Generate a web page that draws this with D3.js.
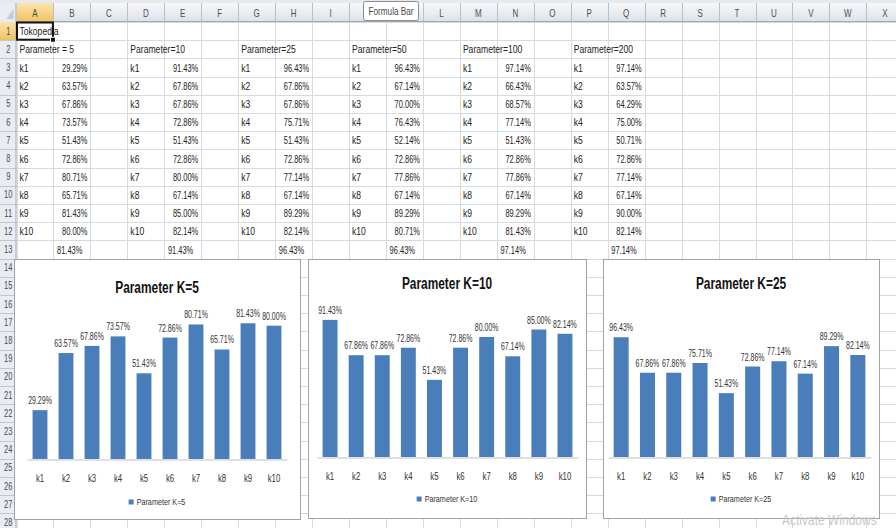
<!DOCTYPE html>
<html>
<head>
<meta charset="utf-8">
<script src="https://cdn.jsdelivr.net/npm/d3@7"></script>
<style>
  html, body { margin: 0; padding: 0; background: #fff; }
  svg { display: block; font-family: "Liberation Sans", Arial, sans-serif; }
</style>
</head>
<body>
<svg id="chart" width="896" height="528"></svg>
<script>
// ---------------- data ----------------
const columnLetters = ["A","B","C","D","E","F","G","H","I","J","K","L","M","N","O","P","Q","R","S","T","U","V","W","X"];
const categories = ["k1","k2","k3","k4","k5","k6","k7","k8","k9","k10"];
const sheetTitle = "Tokopedia";
const paramHeaders = ["Parameter = 5","Parameter=10","Parameter=25","Parameter=50","Parameter=100","Parameter=200"];
const param5   = [29.29, 63.57, 67.86, 73.57, 51.43, 72.86, 80.71, 65.71, 81.43, 80.00];
const param10  = [91.43, 67.86, 67.86, 72.86, 51.43, 72.86, 80.00, 67.14, 85.00, 82.14];
const param25  = [96.43, 67.86, 67.86, 75.71, 51.43, 72.86, 77.14, 67.14, 89.29, 82.14];
const param50  = [96.43, 67.14, 70.00, 76.43, 52.14, 72.86, 77.86, 67.14, 89.29, 80.71];
const param100 = [97.14, 66.43, 68.57, 77.14, 51.43, 72.86, 77.86, 67.14, 89.29, 81.43];
const param200 = [97.14, 63.57, 64.29, 75.00, 50.71, 72.86, 77.14, 67.14, 90.00, 82.14];
const summaryRow = [81.43, 91.43, 96.43, 96.43, 97.14, 97.14];
const chartTitles = ["Parameter K=5", "Parameter K=10", "Parameter K=25"];
const chartSeries = [param5, param10, param25];
const axisMaxima = [90, 100, 120];

const paramBlocks = [param5, param10, param25, param50, param100, param200];

// ---------------- layout ----------------
const svg = d3.select("#chart");
const W = 896, H = 528;
const rowHdrW = 16.5, colW = 36.95;
const hdrTop = 3, hdrBot = 22, rowH = 18.2;
const colX = i => rowHdrW + i * colW;
const rowTop = n => hdrBot + (n - 1) * rowH;
const rowMid = n => rowTop(n) + rowH / 2;
const barColor = "#4a7ebb";
const tip = { x: 363.5, y: 1.5, w: 55, h: 19 };

function txt(parent, x, y, s, o = {}) {
  return parent.append("text")
    .attr("transform", `translate(${x},${y}) scale(${o.sx || 0.8},1)`)
    .attr("text-anchor", o.anchor || "start")
    .style("font-size", (o.size || 11) + "px")
    .style("font-weight", o.weight || "normal")
    .style("fill", o.fill || "#222")
    .text(s);
}

const defs = svg.append("defs");
const g1 = defs.append("linearGradient").attr("id", "hdr").attr("x1", 0).attr("y1", 0).attr("x2", 0).attr("y2", 1);
g1.append("stop").attr("offset", 0).attr("stop-color", "#f7f8fa");
g1.append("stop").attr("offset", 1).attr("stop-color", "#dde2e8");
const g2 = defs.append("linearGradient").attr("id", "hdrSel").attr("x1", 0).attr("y1", 0).attr("x2", 0).attr("y2", 1);
g2.append("stop").attr("offset", 0).attr("stop-color", "#fbe3ae");
g2.append("stop").attr("offset", 1).attr("stop-color", "#f2c25e");

svg.append("rect").attr("width", W).attr("height", H).attr("fill", "#fff");
svg.append("rect").attr("width", W).attr("height", hdrTop).attr("fill", "#e6eaef");

// gridlines
const grid = svg.append("g").attr("stroke", "#d6dbe2").attr("stroke-width", 1);
for (let i = 0; i <= columnLetters.length; i++) {
  const x = Math.round(colX(i)) + 0.5;
  grid.append("line").attr("x1", x).attr("x2", x).attr("y1", hdrBot).attr("y2", H);
}
for (let n = 1; n <= 29; n++) {
  const y = Math.round(rowTop(n)) + 0.5;
  grid.append("line").attr("x1", rowHdrW).attr("x2", W).attr("y1", y).attr("y2", y);
}

// column header
svg.append("rect").attr("x", 0).attr("y", hdrTop).attr("width", W).attr("height", hdrBot - hdrTop).attr("fill", "url(#hdr)");
svg.append("rect").attr("x", colX(0)).attr("y", hdrTop).attr("width", colW).attr("height", hdrBot - hdrTop).attr("fill", "url(#hdrSel)");
columnLetters.forEach((c, i) => {
  const x = Math.round(colX(i + 1)) + 0.5;
  svg.append("line").attr("x1", x).attr("x2", x).attr("y1", hdrTop).attr("y2", hdrBot).attr("stroke", "#b9c1cc");
  const cxl = colX(i) + colW / 2;
  // letters hidden behind the "Formula Bar" tooltip are not drawn
  if (cxl > tip.x - 4 && cxl < tip.x + tip.w + 4) return;
  txt(svg, cxl, hdrBot - 5, c, { anchor: "middle", size: 10, fill: "#4a4f57", sx: 0.8 });
});
svg.append("line").attr("x1", 0).attr("x2", W).attr("y1", hdrBot - 0.5).attr("y2", hdrBot - 0.5).attr("stroke", "#9fa9b6");

// row header
svg.append("rect").attr("x", 0).attr("y", hdrTop).attr("width", rowHdrW).attr("height", H - hdrTop).attr("fill", "#e9edf2");
svg.append("rect").attr("x", 0).attr("y", rowTop(1)).attr("width", rowHdrW).attr("height", rowH).attr("fill", "url(#hdrSel)");
svg.append("path").attr("d", `M${rowHdrW - 3},${hdrBot - 3}L${rowHdrW - 3},${hdrTop + 6}L${rowHdrW - 10},${hdrBot - 3}Z`).attr("fill", "#c5cbd3");
for (let n = 1; n <= 28; n++) {
  const y = Math.round(rowTop(n + 1)) + 0.5;
  svg.append("line").attr("x1", 0).attr("x2", rowHdrW).attr("y1", y).attr("y2", y).attr("stroke", "#c0c7d1");
  txt(svg, rowHdrW / 2, rowMid(n) + 3.5, String(n), { anchor: "middle", size: 10, fill: "#3f4c60", sx: 0.75 });
}
svg.append("line").attr("x1", rowHdrW - 0.5).attr("x2", rowHdrW - 0.5).attr("y1", hdrTop).attr("y2", H).attr("stroke", "#9fa9b6");

// cells
const cells = svg.append("g");
txt(cells, colX(0) + 3, rowMid(1) + 4, sheetTitle, { size: 11, sx: 0.78 });
paramBlocks.forEach((vals, b) => {
  const c = b * 3;
  txt(cells, colX(c) + 3, rowMid(2) + 4, paramHeaders[b], { size: 11, sx: 0.78 });
  vals.forEach((v, i) => {
    txt(cells, colX(c) + 3, rowMid(3 + i) + 4, categories[i], { size: 11, sx: 0.78 });
    txt(cells, colX(c + 2) - 3, rowMid(3 + i) + 4, d3.format(".2f")(v) + "%", { size: 11, anchor: "end", sx: 0.68 });
  });
  txt(cells, colX(c + 2) - 8, rowMid(13) + 4, d3.format(".2f")(summaryRow[b]) + "%", { size: 11, anchor: "end", sx: 0.68 });
});
// selection box on A1
svg.append("rect").attr("x", colX(0) + 0.5).attr("y", rowTop(1) + 0.5).attr("width", colW - 1).attr("height", rowH - 1)
  .attr("fill", "none").attr("stroke", "#111").attr("stroke-width", 2);
svg.append("rect").attr("x", colX(1) - 3).attr("y", rowTop(2) - 3).attr("width", 5).attr("height", 5).attr("fill", "#111").attr("stroke", "#fff");

// formula bar tooltip
svg.append("rect").attr("x", tip.x).attr("y", tip.y).attr("width", tip.w).attr("height", tip.h).attr("rx", 2)
  .attr("fill", "#fff").attr("stroke", "#8c8c8c");
txt(svg, tip.x + tip.w / 2, 15, "Formula Bar", { anchor: "middle", size: 10, fill: "#4a4a4a", sx: 0.82 });

// ---------------- charts ----------------
const chartLayouts = [
  { x0: 14,  y0: 259, x1: 300, y1: 519, px0: 27,  px1: 287, base: 459, top: 309, titleY: 293, tickY: 481, legY: 505 },
  { x0: 308, y0: 259, x1: 586, y1: 518, px0: 317, px1: 578, base: 457, top: 307, titleY: 289, tickY: 479, legY: 502 },
  { x0: 603, y0: 259, x1: 879, y1: 518, px0: 608, px1: 871, base: 457, top: 308, titleY: 289, tickY: 479, legY: 502 }
];

chartSeries.forEach((vals, ci) => {
  const L = chartLayouts[ci];
  const g = svg.append("g");
  g.append("rect").attr("x", L.x0 + 0.5).attr("y", L.y0 + 0.5).attr("width", L.x1 - L.x0).attr("height", L.y1 - L.y0)
    .attr("fill", "#fff").attr("stroke", "#a3a3a3");
  const cx = (L.x0 + L.x1) / 2;
  txt(g, cx, L.titleY, chartTitles[ci], { anchor: "middle", size: 17, weight: "bold", fill: "#111", sx: 0.7 });

  const x = d3.scaleBand().domain(categories).range([L.px0, L.px1]).paddingInner(0.4286).paddingOuter(0.2143);
  const y = d3.scaleLinear().domain([0, axisMaxima[ci]]).range([L.base, L.top]);

  g.selectAll("rect.bar").data(vals).join("rect").attr("class", "bar")
    .attr("x", (d, i) => x(categories[i])).attr("width", x.bandwidth())
    .attr("y", d => y(d)).attr("height", d => y(0) - y(d)).attr("fill", barColor);

  vals.forEach((v, i) => {
    txt(g, x(categories[i]) + x.bandwidth() / 2, y(v) - 6, d3.format(".2f")(v) + "%",
      { anchor: "middle", size: 10, fill: "#333", sx: 0.7 });
  });

  const ax = g.append("g").attr("transform", `translate(0,${L.base + 0.5})`)
    .call(d3.axisBottom(x).tickSize(0).tickSizeOuter(0).tickPadding(L.tickY - L.base - 7));
  ax.select(".domain").attr("stroke", "#c4bfc0");
  ax.selectAll(".tick text").attr("transform", "scale(0.78,1)")
    .style("font-size", "10px").style("fill", "#333").style("font-family", "Liberation Sans, Arial, sans-serif");

  // legend
  const lt = txt(g, 0, 0, chartTitles[ci], { size: 8.5, fill: "#333", sx: 0.85 });
  const tw = lt.node().getComputedTextLength() * 0.85;
  const total = 5 + 3 + tw;
  const lx = cx - total / 2;
  g.append("rect").attr("x", lx).attr("y", L.legY - 5.5).attr("width", 5).attr("height", 5).attr("fill", barColor);
  lt.attr("transform", `translate(${lx + 8},${L.legY}) scale(0.85,1)`);
});

// watermark at the bottom-right corner
svg.append("text").attr("transform", "translate(782,525) scale(0.8,1)")
  .style("font-size", "15px").style("fill", "#c9c9c9").text("Activate Windows");
</script>
</body>
</html>
